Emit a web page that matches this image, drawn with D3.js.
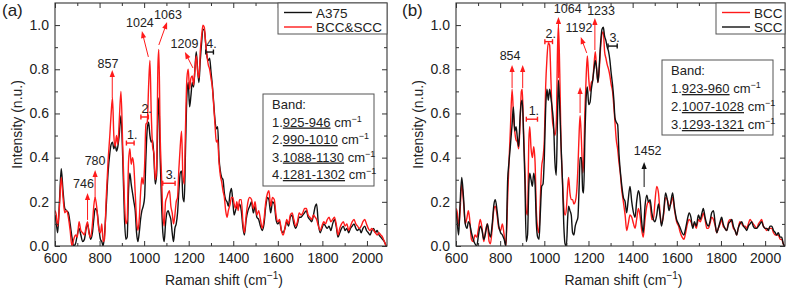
<!DOCTYPE html>
<html><head><meta charset="utf-8">
<script src="https://cdn.jsdelivr.net/npm/d3@7"></script>
<style>
body{margin:0;background:#fff}
svg{display:block}
text{font-family:"Liberation Sans",Arial,Helvetica,sans-serif;fill:#222}
</style></head>
<body><svg id="c" width="788" height="289"></svg>
<script>
// ---------------- DATA ----------------
const xDomain = [600, 2090];
const yDomain = [0, 1.1];
const xTickValues = [600, 800, 1000, 1200, 1400, 1600, 1800, 2000];
const xMinorValues = [700, 900, 1100, 1300, 1500, 1700, 1900];
const yTickValues = [0, 0.2, 0.4, 0.6, 0.8, 1.0];
const yMinorValues = [0.1, 0.3, 0.5, 0.7, 0.9];

// Panel (a)
const aWn = [600,606,612,620,628,636,644,652,660,668,
676,684,692,700,708,716,724,732,740,746,
752,760,768,774,780,788,796,804,810,816,
822,830,838,846,852,858,864,870,876,882,
888,896,904,912,918,924,930,936,942,948,
954,960,966,972,978,984,990,996,1002,1008,
1014,1020,1026,1032,1038,1044,1050,1056,1062,1066,
1072,1078,1084,1090,1096,1102,1108,1114,1120,1126,
1132,1138,1144,1150,1156,1162,1168,1174,1180,1186,
1192,1198,1204,1210,1216,1222,1228,1234,1240,1246,
1252,1258,1264,1270,1276,1282,1288,1294,1300,1306,
1312,1318,1324,1330,1336,1342,1348,1354,1360,1366,
1372,1378,1386,1392,1398,1404,1410,1416,1422,1428,
1436,1444,1450,1458,1466,1474,1482,1490,1498,1506,
1514,1522,1530,1538,1546,1554,1560,1568,1576,1584,
1592,1600,1608,1616,1624,1632,1640,1648,1656,1664,
1672,1680,1688,1696,1704,1712,1720,1728,1736,1744,
1752,1760,1768,1774,1782,1790,1798,1806,1814,1822,
1830,1838,1846,1854,1862,1870,1878,1886,1894,1902,
1910,1918,1926,1934,1942,1950,1958,1966,1974,1982,
1990,1998,2006,2014,2022,2030,2038,2046,2054,2062,
2070,2078,2086];
const aA375 = [.14,.10,.06,.20,.35,.25,.17,.16,.15,.10,
.04,.00,.01,.05,.08,.05,.02,.03,.08,.10,
.07,.03,.06,.12,.17,.16,.09,.03,.02,.00,
.05,.18,.33,.42,.46,.47,.44,.46,.43,.45,
.50,.59,.40,.12,.03,.04,.25,.33,.28,.24,
.20,.16,.06,.02,.06,.12,.16,.18,.22,.40,
.53,.56,.50,.47,.48,.40,.28,.32,.60,.67,
.40,.20,.06,.02,.10,.15,.16,.14,.12,.06,
.02,.08,.10,.15,.25,.33,.34,.22,.20,.45,
.68,.74,.63,.68,.74,.72,.80,.88,.80,.74,
.84,.92,.98,.98,.92,.86,.84,.85,.79,.73,
.65,.57,.53,.54,.40,.34,.31,.30,.24,.21,
.20,.18,.24,.26,.20,.14,.16,.18,.17,.19,
.16,.08,.05,.12,.16,.18,.20,.15,.18,.13,
.12,.09,.07,.10,.18,.22,.21,.15,.20,.19,
.12,.10,.11,.07,.06,.08,.11,.09,.13,.14,
.10,.08,.10,.13,.13,.14,.15,.16,.13,.12,
.11,.14,.18,.19,.10,.06,.08,.10,.09,.08,
.09,.07,.10,.12,.09,.04,.06,.08,.09,.07,
.08,.06,.08,.09,.10,.08,.07,.08,.06,.08,
.09,.07,.06,.05,.07,.08,.06,.07,.05,.04,
.03,.02,.00];
const aBCCSCC = [.16,.14,.09,.18,.31,.22,.15,.16,.13,.07,
.00,.03,.05,.04,.11,.07,.06,.05,.09,.11,
.06,.04,.10,.18,.22,.17,.08,.06,.10,.02,
.03,.22,.38,.50,.60,.67,.50,.45,.50,.46,
.56,.70,.45,.20,.10,.12,.38,.44,.37,.40,
.36,.24,.12,.07,.12,.24,.31,.28,.36,.55,
.56,.72,.84,.60,.45,.42,.30,.35,.82,.89,
.50,.32,.15,.09,.20,.22,.24,.25,.18,.15,
.10,.14,.20,.22,.35,.45,.52,.32,.28,.55,
.76,.80,.71,.76,.77,.73,.80,.86,.79,.76,
.88,.95,1.00,.99,.92,.86,.82,.80,.76,.72,
.64,.55,.47,.48,.38,.32,.29,.25,.22,.16,
.13,.16,.19,.22,.22,.19,.17,.20,.16,.21,
.21,.10,.06,.14,.20,.22,.21,.17,.20,.14,
.16,.12,.08,.12,.20,.24,.25,.18,.22,.21,
.14,.11,.12,.07,.05,.08,.12,.10,.14,.15,
.12,.09,.11,.15,.14,.15,.17,.17,.14,.13,
.12,.14,.13,.12,.09,.07,.09,.11,.10,.12,
.13,.11,.12,.13,.10,.05,.08,.10,.11,.09,
.10,.07,.09,.11,.12,.10,.09,.08,.09,.11,
.12,.10,.08,.07,.08,.07,.06,.05,.06,.05,
.04,.02,.00];
const aPeaks = [746, 780, 857, 1024, 1063, 1209];
const aBands = [[925, 946], [990, 1010], [1088, 1130], [1281, 1302]];

// Panel (b)
const bWn = [600,606,612,618,626,634,642,650,656,662,
670,678,686,694,702,710,718,726,734,742,
750,756,764,772,778,786,794,802,810,818,
826,834,840,846,854,860,866,872,878,884,
890,896,900,906,912,918,924,930,934,940,
946,952,958,964,970,976,982,988,994,1000,
1006,1012,1018,1024,1030,1036,1042,1048,1054,1060,
1064,1070,1076,1082,1088,1094,1100,1106,1110,1116,
1122,1128,1134,1140,1146,1152,1158,1162,1168,1174,
1178,1184,1190,1195,1201,1207,1213,1219,1225,1231,
1237,1243,1249,1255,1261,1267,1273,1279,1285,1291,
1297,1303,1309,1315,1320,1326,1332,1338,1344,1350,
1358,1366,1373,1380,1388,1396,1404,1411,1418,1426,
1433,1440,1448,1456,1464,1472,1479,1487,1494,1501,
1509,1517,1524,1531,1540,1549,1557,1565,1573,1581,
1590,1599,1608,1616,1624,1632,1640,1648,1656,1664,
1672,1680,1688,1698,1706,1714,1720,1728,1736,1743,
1750,1758,1766,1774,1781,1788,1796,1803,1810,1818,
1826,1834,1842,1849,1856,1864,1871,1878,1886,1894,
1902,1910,1917,1924,1932,1939,1946,1954,1962,1970,
1977,1984,1992,2000,2007,2015,2022,2030,2038,2046,
2052,2060,2068,2075,2082,2088];
const bBCC = [.17,.15,.09,.15,.28,.20,.10,.13,.16,.12,
.03,.02,.05,.04,.08,.12,.08,.02,.07,.10,
.02,.01,.08,.17,.18,.14,.08,.07,.10,.05,
.00,.22,.38,.52,.71,.60,.52,.48,.47,.44,
.55,.70,.71,.52,.35,.16,.14,.48,.54,.44,
.40,.45,.38,.16,.08,.06,.22,.36,.40,.48,
.72,.85,.92,.91,.75,.58,.53,.50,.55,.90,
1.00,.78,.45,.30,.18,.14,.17,.27,.31,.24,
.21,.21,.19,.20,.24,.35,.52,.59,.48,.33,
.38,.62,.78,.86,.76,.70,.74,.75,.82,.88,
.80,.74,.80,.90,.96,.97,.88,.85,.82,.80,
.77,.73,.70,.63,.56,.48,.44,.38,.33,.26,
.20,.14,.07,.10,.14,.13,.10,.08,.12,.17,
.14,.08,.04,.12,.18,.20,.19,.12,.12,.20,
.27,.24,.15,.10,.14,.22,.21,.18,.19,.22,
.16,.11,.09,.06,.04,.03,.06,.10,.12,.11,
.09,.10,.08,.12,.11,.13,.15,.12,.08,.08,
.10,.13,.12,.09,.06,.08,.10,.12,.09,.08,
.07,.11,.12,.11,.08,.07,.05,.08,.11,.10,
.09,.09,.08,.10,.12,.11,.10,.09,.08,.10,
.11,.12,.09,.08,.07,.08,.08,.08,.06,.05,
.05,.05,.03,.03,.01,.00];
const bSCC = [.16,.10,.05,.18,.31,.22,.10,.08,.11,.10,
.06,.03,.01,.00,.05,.09,.07,.03,.06,.10,
.06,.04,.10,.19,.21,.16,.09,.06,.05,.03,
.00,.30,.38,.45,.55,.63,.52,.54,.49,.45,
.58,.65,.66,.50,.30,.02,.05,.28,.33,.30,
.27,.33,.28,.10,.04,.03,.15,.27,.28,.40,
.62,.71,.66,.71,.67,.62,.55,.38,.32,.60,
.75,.62,.45,.30,.10,.01,.00,.13,.18,.16,
.14,.06,.05,.09,.11,.13,.28,.40,.40,.25,
.24,.50,.68,.72,.64,.65,.71,.75,.80,.84,
.80,.74,.82,.92,.98,.99,.95,.93,.90,.88,
.84,.78,.73,.66,.58,.56,.55,.42,.34,.28,
.22,.20,.15,.21,.27,.20,.15,.13,.20,.25,
.22,.12,.06,.18,.23,.20,.21,.15,.12,.11,
.14,.19,.14,.09,.15,.24,.21,.16,.20,.24,
.17,.12,.10,.08,.06,.05,.08,.12,.15,.13,
.08,.11,.09,.14,.12,.15,.17,.13,.10,.09,
.11,.15,.16,.10,.06,.08,.11,.13,.10,.08,
.07,.10,.11,.12,.09,.07,.05,.08,.10,.11,
.09,.08,.07,.09,.10,.11,.09,.08,.08,.09,
.10,.11,.09,.08,.08,.07,.09,.09,.07,.06,
.05,.06,.04,.04,.01,.00];
const bPeaks = [854, 1064, 1192, 1233, 1452];
const bBands = [[923, 960], [1007, 1028], [1293, 1321]];

// ---------------- DRAWING ----------------
const RED = "#ff1a1a", BLACK = "#111";
const svg = d3.select("#c");
const defs = svg.append("defs");

function arrow(g, x1, y1, x2, y2, color) {
  const dx = x2 - x1, dy = y2 - y1, L = Math.hypot(dx, dy);
  const ux = dx / L, uy = dy / L, hl = 7, hw = 2.6;
  g.append("line").attr("x1", x1).attr("y1", y1)
    .attr("x2", x2 - ux * hl * 0.8).attr("y2", y2 - uy * hl * 0.8)
    .attr("stroke", color).attr("stroke-width", 1);
  const bx = x2 - ux * hl, by = y2 - uy * hl;
  g.append("path").attr("d",
    `M${x2},${y2}L${bx - uy * hw},${by + ux * hw}L${bx + uy * hw},${by - ux * hw}Z`)
    .attr("fill", color);
}
function bandBar(g, xa, xb, y, color) {
  g.append("line").attr("x1", xa).attr("x2", xb).attr("y1", y).attr("y2", y)
    .attr("stroke", color).attr("stroke-width", 1.4);
  [xa, xb].forEach(xx => g.append("line").attr("x1", xx).attr("x2", xx)
    .attr("y1", y - 2.5).attr("y2", y + 2.5).attr("stroke", color).attr("stroke-width", 1.4));
}

function drawPanel(p) {
  const g = svg.append("g");
  const x = d3.scaleLinear().domain(xDomain).range([p.left, p.right]);
  const y = d3.scaleLinear().domain(yDomain).range([p.bottom, p.top]);
  defs.append("clipPath").attr("id", "clip" + p.id).append("rect")
    .attr("x", p.left).attr("y", p.top).attr("width", p.right - p.left).attr("height", p.bottom - p.top);

  const line = d3.line().x(d => x(d[0])).y(d => y(d[1])).curve(d3.curveMonotoneX);
  p.series.forEach(s => {
    g.append("path").attr("d", line(d3.zip(p.wn, s.values)))
      .attr("fill", "none").attr("stroke", s.color).attr("stroke-width", 1.4)
      .attr("stroke-linejoin", "round").attr("clip-path", `url(#clip${p.id})`);
  });

  // axes (ticks inward)
  const styleAxis = sel => { sel.select(".domain").remove(); sel.selectAll("line").attr("stroke", "#333"); };
  const fnt = '"Liberation Sans",Arial,sans-serif';
  g.append("g").attr("transform", `translate(0,${p.bottom})`)
    .call(d3.axisBottom(x).tickValues(xTickValues).tickSizeInner(-5).tickSizeOuter(0).tickPadding(7).tickFormat(d3.format("d")))
    .call(styleAxis).call(s => s.selectAll("text").attr("font-size", 14).attr("fill", "#222").attr("font-family", fnt));
  g.append("g").attr("transform", `translate(0,${p.bottom})`)
    .call(d3.axisBottom(x).tickValues(xMinorValues).tickSizeInner(-3).tickSizeOuter(0).tickFormat(""))
    .call(styleAxis);
  g.append("g").attr("transform", `translate(0,${p.top})`)
    .call(d3.axisTop(x).tickValues(xTickValues).tickSizeInner(-5).tickSizeOuter(0).tickFormat(""))
    .call(styleAxis);
  g.append("g").attr("transform", `translate(0,${p.top})`)
    .call(d3.axisTop(x).tickValues(xMinorValues).tickSizeInner(-3).tickSizeOuter(0).tickFormat(""))
    .call(styleAxis);
  g.append("g").attr("transform", `translate(${p.left},0)`)
    .call(d3.axisLeft(y).tickValues(yTickValues).tickSizeInner(-5).tickSizeOuter(0).tickPadding(6).tickFormat(d3.format(".1f")))
    .call(styleAxis).call(s => s.selectAll("text").attr("font-size", 14).attr("fill", "#222").attr("font-family", fnt).attr("dy", "0.3em"));
  g.append("g").attr("transform", `translate(${p.left},0)`)
    .call(d3.axisLeft(y).tickValues(yMinorValues).tickSizeInner(-3).tickSizeOuter(0).tickFormat(""))
    .call(styleAxis);
  g.append("g").attr("transform", `translate(${p.right},0)`)
    .call(d3.axisRight(y).tickValues(yTickValues).tickSizeInner(-5).tickSizeOuter(0).tickFormat(""))
    .call(styleAxis);
  g.append("g").attr("transform", `translate(${p.right},0)`)
    .call(d3.axisRight(y).tickValues(yMinorValues).tickSizeInner(-3).tickSizeOuter(0).tickFormat(""))
    .call(styleAxis);

  g.append("rect").attr("x", p.left).attr("y", p.top).attr("width", p.right - p.left)
    .attr("height", p.bottom - p.top).attr("fill", "none").attr("stroke", "#333").attr("stroke-width", 1.1);

  // axis titles
  const xt = g.append("text").attr("x", (p.left + p.right) / 2 + 3).attr("y", 285)
    .attr("text-anchor", "middle").attr("font-size", 14);
  xt.append("tspan").text("Raman shift (cm");
  xt.append("tspan").attr("dy", -6).attr("font-size", 10).text("\u22121");
  xt.append("tspan").attr("dy", 6).text(")");
  g.append("text").attr("transform", `translate(${p.left - 33},${(p.top + p.bottom) / 2}) rotate(-90)`)
    .attr("text-anchor", "middle").attr("font-size", 14).text("Intensity (n.u.)");
  g.append("text").attr("x", p.tagX).attr("y", 16).attr("font-size", 17).text(p.tag);

  // legend
  const lg = g.append("g");
  lg.append("rect").attr("x", p.legX).attr("y", p.top).attr("width", p.right - p.legX).attr("height", 31)
    .attr("fill", "#fff").attr("stroke", "#555").attr("stroke-width", 1);
  p.legend.forEach((d, i) => {
    const yy = p.top + 9.5 + i * 14.5;
    lg.append("line").attr("x1", p.legX + 6).attr("x2", p.legX + 34).attr("y1", yy).attr("y2", yy)
      .attr("stroke", d.color).attr("stroke-width", 1.4);
    lg.append("text").attr("x", p.legX + 38).attr("y", yy + 5).attr("font-size", 13.5).text(d.name);
  });

  // band box
  const bb = g.append("g");
  bb.append("rect").attr("x", p.box.x).attr("y", p.box.y).attr("width", p.box.w).attr("height", p.box.h)
    .attr("fill", "#fff").attr("stroke", "#555").attr("stroke-width", 1);
  bb.append("text").attr("x", p.box.x + 9).attr("y", p.box.y + 15).attr("font-size", 13).text("Band:");
  p.bands.forEach((b, i) => {
    const t = bb.append("text").attr("x", p.box.x + 9).attr("y", p.box.y + 15 + (i + 1) * p.box.step).attr("font-size", 13);
    t.append("tspan").text((i + 1) + ".");
    t.append("tspan").attr("text-decoration", "underline").style("text-decoration", "underline").text(b[0] + "-" + b[1]);
    t.append("tspan").text(" cm");
    t.append("tspan").attr("dy", -5).attr("font-size", 9).text("\u22121");
  });

  return {g, x, y};
}

// ---- Panel (a)
const A = drawPanel({
  id: "a", left: 55, right: 387, top: 3, bottom: 246, wn: aWn, tag: "(a)", tagX: 2,
  series: [{values: aA375, color: BLACK}, {values: aBCCSCC, color: RED}],
  legend: [{name: "A375", color: BLACK}, {name: "BCC&SCC", color: RED}], legX: 278,
  box: {x: 263, y: 94, w: 111, h: 92, step: 17.5}, bands: aBands
});
{
  const {g, x, y} = A;
  const ann = g.append("g");
  const lbl = (t, xx, yy) => ann.append("text").attr("x", xx).attr("y", yy).attr("text-anchor", "middle").attr("font-size", 12.5).text(t);
  arrow(ann, x(aPeaks[0]), y(0.118), x(aPeaks[0]), y(0.24), RED); lbl(aPeaks[0], x(728), y(0.263));
  arrow(ann, x(aPeaks[1]), y(0.217), x(aPeaks[1]), y(0.344), RED); lbl(aPeaks[1], x(780), y(0.367));
  arrow(ann, x(aPeaks[2]), y(0.67), x(aPeaks[2]), y(0.797), RED); lbl(aPeaks[2], x(838), y(0.806));
  arrow(ann, x(1019), y(0.856), x(990), y(0.973), RED); lbl(aPeaks[3], x(981), y(0.991));
  arrow(ann, x(1066), y(0.91), x(1103), y(1.014), RED); lbl(aPeaks[4], x(1107), y(1.028));
  arrow(ann, x(1219), y(0.806), x(1183), y(0.878), RED); lbl(aPeaks[5], x(1181), y(0.896));
  const barV = [0.466, 0.584, 0.284, 0.878];
  aBands.forEach((b, i) => {
    const c = i === 3 ? BLACK : RED;
    const xa = x(b[0]) - 1, xb = x(b[1]) + 2;
    bandBar(ann, xa, xb, y(barV[i]), c);
    lbl((i + 1) + ".", (xa + xb) / 2 + 2, y(barV[i]) - 4);
  });
}

// ---- Panel (b)
const B = drawPanel({
  id: "b", left: 456, right: 785, top: 3, bottom: 246, wn: bWn, tag: "(b)", tagX: 402,
  series: [{values: bBCC, color: RED}, {values: bSCC, color: BLACK}],
  legend: [{name: "BCC", color: RED}, {name: "SCC", color: BLACK}], legX: 716,
  box: {x: 662, y: 60, w: 111, h: 75, step: 18}, bands: bBands
});
{
  const {g, x, y} = B;
  const ann = g.append("g");
  const lbl = (t, xx, yy) => ann.append("text").attr("x", xx).attr("y", yy).attr("text-anchor", "middle").attr("font-size", 12.5).text(t);
  arrow(ann, x(bPeaks[0]), y(0.715), x(bPeaks[0]), y(0.819), RED); lbl(bPeaks[0], x(845), y(0.842));
  arrow(ann, x(902), y(0.715), x(902), y(0.819), RED);
  arrow(ann, x(bPeaks[1]), y(0.76), x(bPeaks[1]), y(1.037), RED); lbl(bPeaks[1], x(1106), y(1.055));
  arrow(ann, x(1192), y(0.874), x(1165), y(0.946), RED); lbl(bPeaks[2], x(1157), y(0.969));
  arrow(ann, x(1162), y(0.602), x(1162), y(0.72), RED);
  arrow(ann, x(1229), y(0.887), x(1229), y(1.032), RED); lbl(bPeaks[3], x(1257), y(1.046));
  arrow(ann, x(bPeaks[4]), y(0.267), x(bPeaks[4]), y(0.38), BLACK); lbl(bPeaks[4], x(1468), y(0.412));
  const barV = [0.574, 0.925, 0.905];
  bBands.forEach((b, i) => {
    const c = i === 2 ? BLACK : RED;
    const xa = x(b[0]) - 1, xb = x(b[1]) + 2;
    bandBar(ann, xa, xb, y(barV[i]), c);
    lbl((i + 1) + ".", (xa + xb) / 2 + 2, y(barV[i]) - 4);
  });
}
</script></body></html>
